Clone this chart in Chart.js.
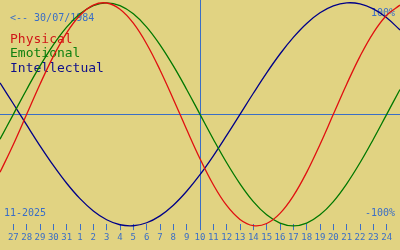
<!DOCTYPE html>
<html>
<head>
<meta charset="utf-8">
<script src="https://cdn.jsdelivr.net/npm/chart.js@4/dist/chart.umd.min.js"></script>
<style>
  body { margin: 0; background: #e1d382; }
  canvas { display: block; background: #e1d382; }
</style>
</head>
<body>
<canvas id="bio" width="400" height="250"></canvas>
<script>
// dias del eje (27 oct .. 24 nov), el primero y ultimo punto quedan en los bordes
var dias = ['27','28','29','30','31','1','2','3','4','5','6','7','8','9','10',
            '11','12','13','14','15','16','17','18','19','20','21','22','23','24']
var hoy = dias.indexOf('10')  // dia marcado (10 nov)

// valores diarios desde el 26 oct hasta el 25 nov (-1 .. 1)
var fisico = [-0.52, -0.27, 0, 0.27, 0.52, 0.731, 0.888, 0.979, 0.998, 0.942, 0.817,
              0.631, 0.398, 0.136, -0.136, -0.398, -0.631, -0.817, -0.942, -0.998, -0.979,
              -0.888, -0.731, -0.52, -0.27, 0, 0.27, 0.52, 0.731, 0.888, 0.979]
var emocional = [-0.223, 0, 0.223, 0.434, 0.623, 0.782, 0.901, 0.975, 1, 0.975, 0.901,
                 0.782, 0.623, 0.434, 0.223, 0, -0.223, -0.434, -0.623, -0.782, -0.901,
                 -0.975, -1, -0.975, -0.901, -0.782, -0.623, -0.434, -0.223, 0, 0.223]
var intelectual = [0.282, 0.095, -0.095, -0.282, -0.458, -0.618, -0.756, -0.866, -0.945, -0.99, -0.999,
                   -0.972, -0.91, -0.815, -0.69, -0.541, -0.372, -0.189, 0, 0.189, 0.372,
                   0.541, 0.69, 0.815, 0.91, 0.972, 0.999, 0.99, 0.945, 0.866, 0.756]

var textos = {
    nacimiento: '<-- 30/07/1984',
    mes: '11-2025',
    max: '100%',
    min: '-100%'
}

var AZUL = '#3a6ec6'
var mono = '"DejaVu Sans Mono", "Liberation Mono", monospace'

function puntos(serie){
    return serie.map(function(v, j){ return { x: j - 1, y: v } })
}

var textosPlugin = {
    id: 'textos',
    beforeDatasetsDraw: function(chart){
        var ctx = chart.ctx
        ctx.save()
        ctx.textBaseline = 'alphabetic'
        ctx.font = '10px ' + mono
        ctx.fillStyle = AZUL
        ctx.textAlign = 'left'
        ctx.fillText(textos.nacimiento, 10, 21)
        ctx.fillText(textos.mes, 4, 216)
        ctx.textAlign = 'right'
        ctx.fillText(textos.max, 395, 16)
        ctx.fillText(textos.min, 395, 216)

        ctx.textAlign = 'left'
        ctx.font = '13px ' + mono
        ctx.fillStyle = '#d01818'
        ctx.fillText('Physical', 10, 43)
        ctx.fillStyle = '#108010'
        ctx.fillText('Emotional', 10, 57)
        ctx.fillStyle = '#10108a'
        ctx.fillText('Intellectual', 10, 72)
        ctx.restore()
    }
}

new Chart('bio', {
    type: 'line',
    data: {
        datasets: [
            { label: 'Physical', data: puntos(fisico), borderColor: '#e01010' },
            { label: 'Emotional', data: puntos(emocional), borderColor: '#007800' },
            { label: 'Intellectual', data: puntos(intelectual), borderColor: '#000088' }
        ]
    },
    options: {
        responsive: false,
        animation: false,
        devicePixelRatio: 1,
        layout: { padding: { left: 0, right: 0, top: 0, bottom: 5 } },
        elements: {
            point: { radius: 0 },
            line: { borderWidth: 1.3, tension: 0.4, fill: false }
        },
        clip: false,
        plugins: {
            legend: { display: false },
            tooltip: { enabled: false },
            title: { display: false }
        },
        scales: {
            x: {
                type: 'linear',
                min: -1,
                max: 29,
                afterBuildTicks: function(scale){
                    scale.ticks = dias.map(function(_, i){ return { value: i } })
                },
                border: { display: false },
                grid: {
                    drawOnChartArea: true,
                    color: function(c){ return c.tick && c.tick.value === hoy ? AZUL : 'rgba(0,0,0,0)' },
                    tickColor: AZUL,
                    tickLength: 6,
                    lineWidth: 1
                },
                ticks: {
                    autoSkip: false,
                    maxRotation: 0,
                    padding: 2,
                    color: AZUL,
                    font: { family: mono, size: 9 },
                    callback: function(v){ return dias[v] }
                }
            },
            y: {
                min: -0.985,
                max: 1.025,
                afterBuildTicks: function(scale){
                    scale.ticks = [{ value: 0 }]
                },
                border: { display: false },
                grid: {
                    drawTicks: false,
                    color: AZUL,
                    lineWidth: 1
                },
                ticks: { display: false }
            }
        }
    },
    plugins: [textosPlugin]
})
</script>
</body>
</html>
